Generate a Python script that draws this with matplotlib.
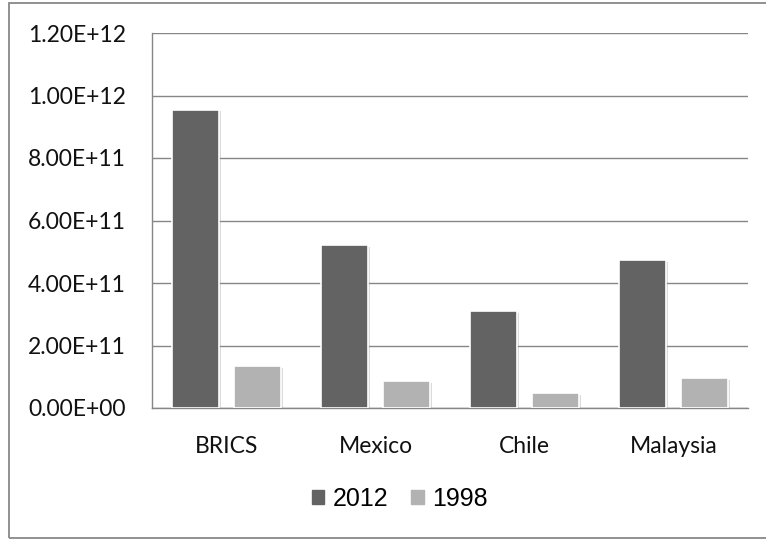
import numpy as np
import matplotlib
matplotlib.use("Agg")
import matplotlib.pyplot as plt
import matplotlib.patheffects as pe
from matplotlib.patches import Rectangle

categories = ["BRICS", "Mexico", "Chile", "Malaysia"]
values_2012 = [9.55e11, 5.21e11, 3.10e11, 4.73e11]
values_1998 = [1.34e11, 8.6e10, 4.8e10, 9.6e10]
y_ticks = [0, 2e11, 4e11, 6e11, 8e11, 1e12, 1.2e12]
y_tick_labels = ["0.00E+00", "2.00E+11", "4.00E+11", "6.00E+11",
                 "8.00E+11", "1.00E+12", "1.20E+12"]

DARK = "#636363"
LIGHT = "#b2b2b2"
GRID = "#868686"

fig = plt.figure(figsize=(7.66, 5.40), dpi=100)
ax = fig.add_axes([152 / 766, 132 / 540, 596 / 766, 375 / 540])

x = np.arange(len(categories))
width = 0.322
offset = 0.208
shadow = [pe.SimplePatchShadow(offset=(1.2, -1.2), shadow_rgbFace="#999999", alpha=0.35),
          pe.Normal()]

b1 = ax.bar(x - offset, values_2012, width, color=DARK, edgecolor="white",
            linewidth=1.2, zorder=3, label="2012")
b2 = ax.bar(x + offset, values_1998, width, color=LIGHT, edgecolor="white",
            linewidth=1.2, zorder=3, label="1998")
for p in list(b1) + list(b2):
    p.set_path_effects(shadow)

ax.set_xlim(-0.5, len(categories) - 0.5)
ax.set_ylim(0, 1.2e12)
ax.set_yticks(y_ticks)
ax.set_yticklabels(y_tick_labels)
ax.set_xticks(x)
ax.set_xticklabels(categories)
ax.yaxis.grid(True, color=GRID, linewidth=1.0, zorder=0)
ax.set_axisbelow(True)

for side in ["top", "right"]:
    ax.spines[side].set_visible(False)
for side in ["left", "bottom"]:
    ax.spines[side].set_color(GRID)
    ax.spines[side].set_linewidth(1.0)

ax.tick_params(axis="both", length=0, labelsize=16.5, colors="#111111")
ax.tick_params(axis="y", pad=19)
ax.tick_params(axis="x", pad=20)
for lab in ax.get_xticklabels() + ax.get_yticklabels():
    lab.set_fontfamily(["Lato", "DejaVu Sans"])

handles = [Rectangle((0, 0), 1, 1, color=DARK), Rectangle((0, 0), 1, 1, color=LIGHT)]
fig.legend(handles, ["2012", "1998"], loc="center", bbox_to_anchor=(400 / 766, 1 - 499 / 540),
           ncol=2, frameon=False, handlelength=0.5, handleheight=0.5,
           handletextpad=0.35, columnspacing=0.9,
           prop={"family": "Liberation Sans", "size": 18})

border = Rectangle((9 / 766, 2 / 540), 1.0, 535 / 540, transform=fig.transFigure,
                   fill=False, edgecolor="#888888", linewidth=1.3, clip_on=False)
fig.patches.append(border)

fig.savefig("out.png", dpi=100)
